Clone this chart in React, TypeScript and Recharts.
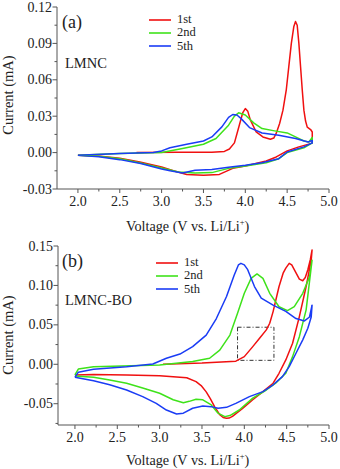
import { LineChart, Line, XAxis, YAxis, ReferenceArea } from 'recharts';

// cyclic voltammetry, panel (a) LMNC — [voltage, current] in scan order
const aFirst: number[][] = [
  [2.7, 0], [3.2, 0.0002], [3.6, 0.0003], [3.75, 0.001], [3.81, 0.003], [3.87, 0.008], [3.93, 0.023],
  [3.97, 0.033], [4.0, 0.0363], [4.03, 0.034], [4.06, 0.027], [4.13, 0.017], [4.21, 0.0129], [4.3, 0.011],
  [4.34, 0.012], [4.37, 0.016], [4.41, 0.024], [4.45, 0.035], [4.49, 0.052], [4.52, 0.071], [4.55, 0.09],
  [4.58, 0.104], [4.6, 0.108], [4.62, 0.105], [4.64, 0.09], [4.66, 0.071], [4.68, 0.052], [4.7, 0.035],
  [4.72, 0.026], [4.74, 0.021], [4.78, 0.019], [4.8, 0.017], [4.8, 0.008],
  [4.78, 0.0074], [4.64, 0.0047], [4.5, 0.0014], [4.37, -0.0036], [4.25, -0.0069], [4.0, -0.011],
  [3.85, -0.013], [3.69, -0.018], [3.5, -0.0187], [3.3, -0.018], [3.14, -0.015], [3.0, -0.0118],
  [2.74, -0.0077], [2.5, -0.0047], [2.27, -0.003], [2.0, -0.0022],
];
const aSecond: number[][] = [
  [2.0, -0.0022], [2.5, -0.0008], [3.0, 0], [3.25, 0.0033], [3.5, 0.0069], [3.65, 0.0116], [3.8, 0.0226],
  [3.87, 0.03], [3.92, 0.0328], [4.0, 0.031], [4.1, 0.0245], [4.2, 0.0198], [4.35, 0.0179], [4.5, 0.0162],
  [4.6, 0.0129], [4.7, 0.0096], [4.76, 0.0088], [4.8, 0.0124], [4.8, 0.008],
  [4.7, 0.004], [4.5, 0], [4.4, -0.005], [4.25, -0.0083], [4.0, -0.011], [3.8, -0.013], [3.6, -0.0165],
  [3.4, -0.0168], [3.2, -0.016], [3.0, -0.0127], [2.75, -0.0085], [2.5, -0.005], [2.25, -0.003], [2.0, -0.0022],
];
const aFifth: number[][] = [
  [2.0, -0.0022], [2.5, -0.0008], [2.9, 0], [3.0, 0.0014], [3.1, 0.004], [3.3, 0.0069], [3.5, 0.0096],
  [3.6, 0.0129], [3.72, 0.0212], [3.8, 0.029], [3.85, 0.0314], [3.9, 0.031], [3.95, 0.028], [4.05, 0.0206],
  [4.2, 0.0162], [4.4, 0.0143], [4.6, 0.0116], [4.75, 0.0088], [4.8, 0.01], [4.8, 0.008],
  [4.7, 0.0047], [4.5, 0.0005], [4.4, -0.005], [4.2, -0.0083], [4.0, -0.0105], [3.8, -0.012], [3.6, -0.014],
  [3.4, -0.0146], [3.25, -0.0168], [3.1, -0.015], [3.0, -0.0135], [2.75, -0.009], [2.5, -0.0058],
  [2.25, -0.0035], [2.0, -0.0022],
];

// panel (b) LMNC-BO
const bFirst: number[][] = [
  [3.04, 0], [3.5, 0.0015], [3.9, 0.004], [4.0, 0.0097], [4.1, 0.0224], [4.18, 0.033], [4.26, 0.0436],
  [4.3, 0.052], [4.34, 0.0668], [4.41, 0.0986], [4.46, 0.116], [4.49, 0.122], [4.53, 0.128], [4.56, 0.126],
  [4.59, 0.12], [4.65, 0.108], [4.69, 0.106], [4.72, 0.11], [4.75, 0.12], [4.78, 0.133], [4.8, 0.145],
  [4.79, 0.132], [4.73, 0.0986], [4.65, 0.0605], [4.57, 0.0266], [4.49, 0.0055], [4.41, -0.0114],
  [4.34, -0.024], [4.22, -0.0347], [4.1, -0.045], [3.98, -0.056], [3.86, -0.066], [3.82, -0.0682],
  [3.79, -0.0685], [3.75, -0.0675], [3.71, -0.064], [3.65, -0.054], [3.6, -0.044], [3.55, -0.035],
  [3.49, -0.027], [3.43, -0.022], [3.32, -0.017], [3.0, -0.0144], [2.61, -0.0135], [2.22, -0.013],
  [2.0, -0.0135],
];
const bSecond: number[][] = [
  [2.0, -0.0135], [2.04, -0.006], [2.22, -0.003], [3.0, -0.001], [3.39, 0.0034], [3.59, 0.0076],
  [3.71, 0.018], [3.83, 0.037], [3.92, 0.0647], [4.0, 0.09], [4.08, 0.109], [4.15, 0.1146], [4.22, 0.109],
  [4.3, 0.09], [4.41, 0.073], [4.51, 0.068], [4.59, 0.073], [4.69, 0.09], [4.77, 0.111], [4.8, 0.132],
  [4.73, 0.069], [4.65, 0.035], [4.57, 0.0097], [4.49, -0.0114], [4.37, -0.024], [4.26, -0.0326],
  [4.1, -0.043], [3.94, -0.058], [3.83, -0.065], [3.77, -0.0664], [3.69, -0.062], [3.61, -0.0516],
  [3.51, -0.045], [3.43, -0.0444], [3.35, -0.047], [3.28, -0.0487], [3.16, -0.045], [3.0, -0.0368],
  [2.8, -0.03], [2.61, -0.024], [2.41, -0.02], [2.22, -0.0165], [2.0, -0.0148],
];
const bFifth: number[][] = [
  [2.0, -0.0165], [2.04, -0.01], [2.22, -0.0063], [2.61, -0.003], [2.92, 0.0004], [3.08, 0.0076],
  [3.24, 0.013], [3.39, 0.0224], [3.55, 0.037], [3.67, 0.058], [3.79, 0.086], [3.88, 0.113], [3.93, 0.126],
  [3.96, 0.128], [4.0, 0.126], [4.04, 0.12], [4.12, 0.0986], [4.2, 0.084], [4.34, 0.075], [4.49, 0.067],
  [4.61, 0.058], [4.71, 0.055], [4.77, 0.06], [4.8, 0.075],
  [4.79, 0.06], [4.75, 0.0457], [4.69, 0.031], [4.61, 0.014], [4.53, -0.003], [4.45, -0.0157],
  [4.34, -0.026], [4.22, -0.0347], [4.06, -0.041], [3.9, -0.0495], [3.79, -0.0546], [3.69, -0.0558],
  [3.61, -0.0537], [3.51, -0.053], [3.39, -0.0558], [3.28, -0.062], [3.2, -0.063], [3.08, -0.058],
  [2.96, -0.0495], [2.8, -0.041], [2.61, -0.0326], [2.41, -0.026], [2.22, -0.021], [2.0, -0.0165],
];

const cycleNames = ['1st', '2nd', '5th'];
const xMajor = [2.0, 2.5, 3.0, 3.5, 4.0, 4.5, 5.0];
const xMinor = [2.25, 2.75, 3.25, 3.75, 4.25, 4.75];
const aYMajor = [-0.03, 0, 0.03, 0.06, 0.09, 0.12];
const aYMinor = [-0.015, 0.015, 0.045, 0.075, 0.105];
const bYMajor = [-0.05, 0, 0.05, 0.1, 0.15];
const bYMinor = [-0.075, -0.025, 0.025, 0.075, 0.125];

const COLORS = ['#f01010', '#3ee21a', '#1a3cf5'];
const AXIS = '#555';
const FONT = '"Liberation Serif", "Times New Roman", serif';

const toPts = (arr: number[][]) => arr.map(([v, i]) => ({ v, i }));
const near = (a: number, list: number[]) => list.some(m => Math.abs(m - a) < 1e-6);

const XTick = (props: any) => {
  const { x, y, payload } = props;
  const major = near(payload.value, xMajor);
  return (
    <g>
      <line x1={x} x2={x} y1={y} y2={y + (major ? 4 : 2.5)} stroke={AXIS} />
      {major && (
        <text x={x} y={y + 17} textAnchor="middle" fontSize={14} fontFamily={FONT} fill="#222">
          {payload.value.toFixed(1)}
        </text>
      )}
    </g>
  );
};

const makeYTick = (majors: number[]) => (props: any) => {
  const { x, y, payload } = props;
  const major = near(payload.value, majors);
  return (
    <g>
      <line x1={x} x2={x - (major ? 4.5 : 2.5)} y1={y} y2={y} stroke={AXIS} />
      {major && (
        <text x={x - 5} y={y + 4.5} textAnchor="end" fontSize={14} fontFamily={FONT} fill="#222">
          {payload.value.toFixed(2)}
        </text>
      )}
    </g>
  );
};

function Panel(props: {
  top: number; height: number; marginTop: number; yWidth: number; xHeight: number;
  xDomain: number[]; yDomain: number[]; yMajor: number[]; yMinor: number[];
  series: number[][][]; box?: boolean;
}) {
  const { top, height, marginTop, yWidth, xHeight, xDomain, yDomain, yMajor, yMinor, series, box } = props;
  const xTicks = [...xMajor, ...xMinor].filter(t => t >= xDomain[0] && t <= xDomain[1]);
  return (
    <div style={{ position: 'absolute', left: 0, top }}>
      <LineChart width={340} height={height} margin={{ top: marginTop, right: 11, bottom: 0, left: 0 }}>
        <XAxis
          dataKey="v" type="number" domain={xDomain} allowDataOverflow ticks={xTicks}
          tick={XTick} tickLine={false} tickSize={0} tickMargin={0} height={xHeight}
          axisLine={{ stroke: AXIS }} interval={0}
        />
        <XAxis
          xAxisId="top" orientation="top" type="number" domain={xDomain} allowDataOverflow
          tick={false} tickLine={false} height={0} axisLine={{ stroke: AXIS }}
        />
        <YAxis
          dataKey="i" type="number" domain={yDomain} allowDataOverflow ticks={[...yMajor, ...yMinor]}
          tick={makeYTick(yMajor)} tickLine={false} tickSize={0} tickMargin={0} width={yWidth}
          axisLine={{ stroke: AXIS }} interval={0}
        />
        <YAxis
          yAxisId="right" orientation="right" type="number" domain={yDomain} allowDataOverflow
          tick={false} tickLine={false} width={0} axisLine={{ stroke: AXIS }}
        />
        {box && (
          <ReferenceArea
            x1={3.92} x2={4.35} y1={0.005} y2={0.047}
            fill="none" fillOpacity={0} stroke="#333" strokeWidth={1} strokeDasharray="4 2 1 2"
          />
        )}
        {series.map((s, k) => (
          <Line
            key={k} data={toPts(s)} dataKey="i" type="linear" stroke={COLORS[k]} strokeWidth={1.5}
            strokeLinejoin="round" dot={false} activeDot={false} isAnimationActive={false}
          />
        ))}
      </LineChart>
    </div>
  );
}

const Legend = ({ left, top }: { left: number; top: number }) => (
  <div style={{ position: 'absolute', left, top, fontFamily: FONT, fontSize: 12.5, color: '#222' }}>
    {cycleNames.map((n, k) => (
      <div key={n} style={{ display: 'flex', alignItems: 'center', height: 13.3 }}>
        <svg width={22} height={4} style={{ marginRight: 6 }}>
          <line x1={0} x2={22} y1={2} y2={2} stroke={COLORS[k]} strokeWidth={1.6} />
        </svg>
        <span>{n}</span>
      </div>
    ))}
  </div>
);

const txt = (s: any): any => ({ position: 'absolute', fontFamily: FONT, color: '#222', whiteSpace: 'nowrap', lineHeight: 1, ...s });

export default function App() {
  return (
    <div style={{ position: 'absolute', left: 0, top: 0, width: 340, height: 469, background: '#fff' }}>
      <Panel
        top={0} height={235} marginTop={7} yWidth={57} xHeight={46}
        xDomain={[1.75, 5]} yDomain={[-0.03, 0.12]} yMajor={aYMajor} yMinor={aYMinor}
        series={[aFirst, aSecond, aFifth]}
      />
      <Panel
        top={235} height={234} marginTop={11} yWidth={58} xHeight={44}
        xDomain={[1.8, 5]} yDomain={[-0.077, 0.15]} yMajor={bYMajor} yMinor={bYMinor}
        series={[bFirst, bSecond, bFifth]} box
      />

      <Legend left={149} top={13} />
      <Legend left={156} top={256} />

      <div style={txt({ left: 62, top: 13, fontSize: 18 })}>(a)</div>
      <div style={txt({ left: 65, top: 56, fontSize: 14.5 })}>LMNC</div>
      <div style={txt({ left: 62, top: 252, fontSize: 18 })}>(b)</div>
      <div style={txt({ left: 65, top: 293, fontSize: 14.5 })}>LMNC-BO</div>

      <div style={txt({ left: 126, top: 218, fontSize: 14.2 })}>Voltage (V vs. Li/Li<sup style={{ fontSize: 8.5 }}>+</sup>)</div>
      <div style={txt({ left: 126, top: 452, fontSize: 14.2 })}>Voltage (V vs. Li/Li<sup style={{ fontSize: 8.5 }}>+</sup>)</div>

      <div style={txt({ left: 8, top: 95, fontSize: 14.5, transform: 'translate(-50%, -50%) rotate(-90deg)' })}>Current (mA)</div>
      <div style={txt({ left: 8, top: 335, fontSize: 14.5, transform: 'translate(-50%, -50%) rotate(-90deg)' })}>Current (mA)</div>
    </div>
  );
}
